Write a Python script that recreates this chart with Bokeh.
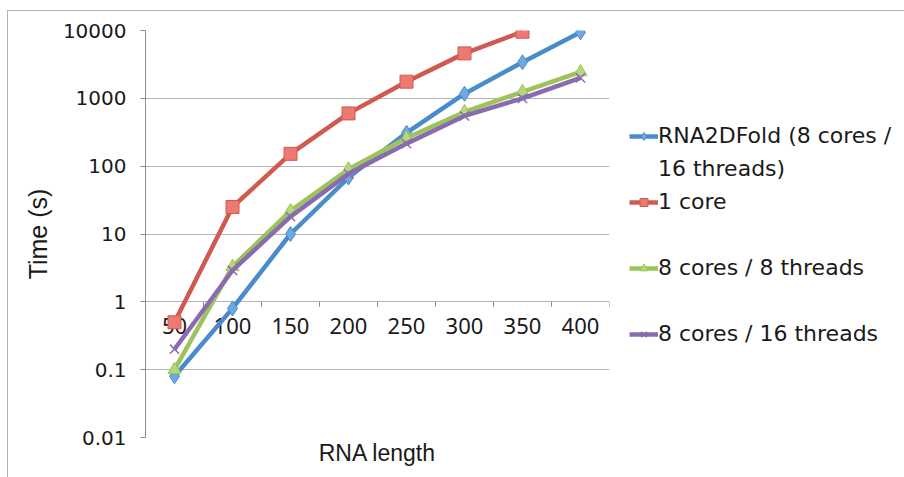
import numpy as np
from bokeh.plotting import figure
from bokeh.models import (Range1d, FixedTicker, CustomJSTickFormatter, Legend,
                          LegendItem)
from bokeh.embed import file_html
from bokeh.resources import INLINE
from bokeh.core.properties import value

# ---- data ----
categories = ["50", "100", "150", "200", "250", "300", "350", "400"]
rna2dfold = [0.08, 0.8, 10, 68, 310, 1170, 3400, 9400]
one_core = [0.5, 25, 152, 600, 1760, 4600, 9600]
cores8_threads8 = [0.1, 3.3, 22, 90, 260, 630, 1250, 2450]
cores8_threads16 = [0.2, 2.9, 18, 77, 215, 550, 1000, 2000]
y_ticks = [0.01, 0.1, 1, 10, 100, 1000, 10000]

series_names = ["RNA2DFold (8 cores /", "16 threads)", "1 core",
                "8 cores / 8 threads", "8 cores / 16 threads"]

n = len(categories)
xs = np.arange(n) + 0.5
bounds = np.arange(n + 1)

# canvas is offset by the outer border (8 px left, 11 px top)
p = figure(frame_width=464, frame_height=407,
           x_range=Range1d(0, n), y_range=Range1d(y_ticks[0], y_ticks[-1]),
           y_axis_type="log", output_backend="svg", toolbar_location=None,
           min_border_left=137, min_border_top=19, min_border_bottom=40,
           min_border_right=295,
           margin=(10, 0, 0, 7),
           styles={"border-left": "1px solid #b0b0b0",
                   "border-top": "1px solid #b0b0b0"})
p.outline_line_color = None
p.background_fill_color = "white"
p.border_fill_color = "white"

# y axis
p.yaxis.ticker = FixedTicker(ticks=y_ticks)
p.yaxis.formatter = CustomJSTickFormatter(code="return String(parseFloat(tick.toPrecision(6)));")
p.yaxis.minor_tick_line_color = None
p.yaxis.major_tick_in = 0
p.yaxis.major_tick_out = 5
p.yaxis.major_tick_line_color = "#8c8c8c"
p.yaxis.axis_line_color = "#8c8c8c"
p.yaxis.major_label_text_font = "DejaVu Sans"
p.yaxis.major_label_text_font_size = "20px"
p.yaxis.major_label_text_color = "#1a1a1a"
p.yaxis.major_label_standoff = 14
p.yaxis.axis_label = "Time (s)"
p.yaxis.axis_label_text_font = "Liberation Sans"
p.yaxis.axis_label_text_font_size = "25px"
p.yaxis.axis_label_text_font_style = "normal"
p.yaxis.axis_label_text_color = "#1a1a1a"
p.yaxis.axis_label_standoff = 8

p.ygrid.ticker = FixedTicker(ticks=y_ticks)
p.ygrid.grid_line_color = "#b4b4b4"
p.ygrid.grid_line_width = 1
p.xgrid.grid_line_color = None

# x axis (only the title; category labels sit on the y=1 crossing line)
p.xaxis.ticker = FixedTicker(ticks=[])
p.xaxis.axis_line_color = None
p.xaxis.major_tick_line_color = None
p.xaxis.minor_tick_line_color = None
p.xaxis.axis_label = "RNA length"
p.xaxis.axis_label_text_font = "Liberation Sans"
p.xaxis.axis_label_text_font_size = "23px"
p.xaxis.axis_label_text_font_style = "normal"
p.xaxis.axis_label_text_color = "#1a1a1a"
p.xaxis.axis_label_standoff = 2

p.ray(x=bounds, y=[1] * len(bounds), length=5, angle=-np.pi / 2,
      length_units="screen", line_color="#8c8c8c", line_width=1)
p.text(x=xs, y=[1] * n, text=categories, text_align="center",
       text_baseline="top", y_offset=16, text_font=value("Noto Sans"),
       text_font_size="22px", text_color="#1a1a1a")

blue, blue_fill = "#4a8ccb", "#6fa8e0"
red, red_fill = "#d05a50", "#ec7a72"
green, green_fill = "#9bc45a", "#b5d97a"
purple, purple_fill = "#8a6bb0", "#a78bc9"

lw = 4.5
l1 = p.line(xs, rna2dfold, line_color=blue, line_width=lw)
m1 = p.scatter(xs, rna2dfold, marker="diamond", size=15, fill_color=blue_fill,
               line_color=blue, line_width=1)
l2 = p.line(xs[:len(one_core)], one_core, line_color=red, line_width=lw)
m2 = p.scatter(xs[:len(one_core)], one_core, marker="square", size=13,
               fill_color=red_fill, line_color=red, line_width=1)
l3 = p.line(xs, cores8_threads8, line_color=green, line_width=lw)
m3 = p.scatter(xs, cores8_threads8, marker="triangle", size=13,
               fill_color=green_fill, line_color=green, line_width=1)
l4 = p.line(xs, cores8_threads16, line_color=purple, line_width=lw)
m4 = p.scatter(xs, cores8_threads16, marker="x", size=13,
               line_color=purple, line_width=1.5)
# invisible renderer: wrapped second line of the first label and row gaps
dummy = p.line(xs, rna2dfold, line_alpha=0)

legend = Legend(items=[
    LegendItem(label=series_names[0], renderers=[l1, m1]),
    LegendItem(label=series_names[1], renderers=[dummy]),
    LegendItem(label=series_names[2], renderers=[l2, m2]),
    LegendItem(label=" ", renderers=[dummy]),
    LegendItem(label=series_names[3], renderers=[l3, m3]),
    LegendItem(label="  ", renderers=[dummy]),
    LegendItem(label=series_names[4], renderers=[l4, m4]),
], location=(20, 88))
legend.border_line_color = None
legend.background_fill_alpha = 0
legend.margin = 0
legend.padding = 0
legend.glyph_width = 29
legend.glyph_height = 20
legend.label_standoff = 0
legend.label_height = 31
legend.spacing = 2
legend.label_text_font = "DejaVu Sans"
legend.label_text_font_size = "22px"
legend.label_text_color = "#1a1a1a"
p.add_layout(legend, "right")

open("out.html", "w").write(file_html(p, INLINE))
